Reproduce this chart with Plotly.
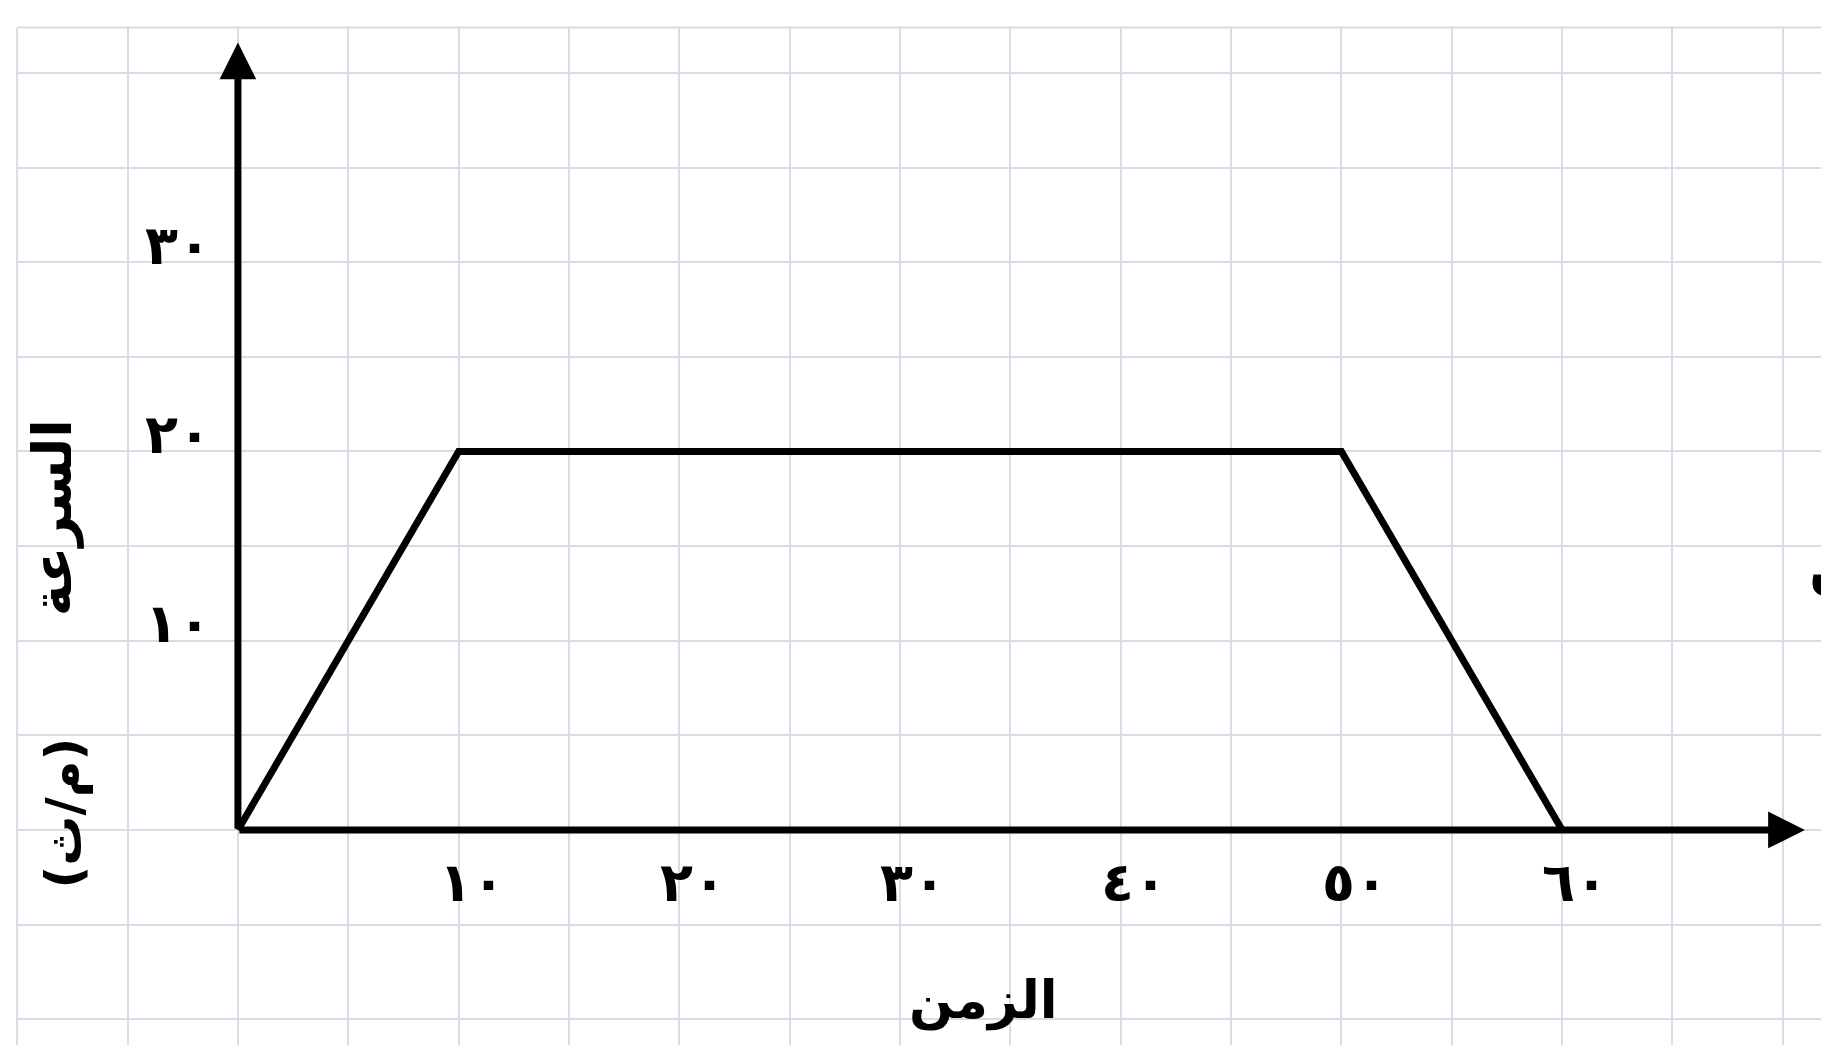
import plotly.graph_objects as go

# speed-time graph (Arabic labels)
time_s = [0, 10, 50, 60]
speed_ms = [0, 20, 20, 0]

x_ticks = [10, 20, 30, 40, 50, 60]
x_tick_labels = ["١٠", "٢٠", "٣٠", "٤٠", "٥٠", "٦٠"]
y_ticks = [10, 20, 30]
y_tick_labels = ["١٠", "٢٠", "٣٠"]

x_title = "الزمن"
y_title = "السرعة"
y_unit = "(م/ث)"

grid_col = "#d9dce6"
font_name = "DejaVu Sans"
bold = dict(family=font_name, color="black", weight="bold")

fig = go.Figure()
fig.add_trace(go.Scatter(x=time_s, y=speed_ms, mode="lines",
                         line=dict(color="black", width=7), hoverinfo="skip"))

# axes with arrow heads
fig.add_annotation(x=0, y=41.6, ax=0, ay=0, axref="x", ayref="y", xref="x", yref="y",
                   text="", showarrow=True, arrowhead=2, arrowsize=1.05, arrowwidth=7,
                   arrowcolor="black")
fig.add_annotation(x=71.0, y=0, ax=0, ay=0, axref="x", ayref="y", xref="x", yref="y",
                   text="", showarrow=True, arrowhead=2, arrowsize=1.05, arrowwidth=7,
                   arrowcolor="black")

for v, lab in zip(x_ticks, x_tick_labels):
    fig.add_annotation(x=v + 0.6, y=-2.8, text=lab, showarrow=False,
                       font=dict(size=54, **bold))
for v, lab in zip(y_ticks, y_tick_labels):
    fig.add_annotation(x=-2.7, y=v + 0.9, text=lab, showarrow=False,
                       font=dict(size=54, **bold))

fig.add_annotation(x=33.8, y=-9.0, text=x_title, showarrow=False,
                   font=dict(size=52, **bold))
fig.add_annotation(x=-8.4, y=16.5, text=y_title, showarrow=False, textangle=-90,
                   font=dict(size=54, **bold))
fig.add_annotation(x=-7.9, y=0.9, text=y_unit, showarrow=False, textangle=-90,
                   font=dict(size=50, **bold))
# cut-off letter at the right edge
fig.add_annotation(x=1.0, y=13.8, xref="paper", yref="y", xanchor="left", xshift=-14,
                   text="ن", showarrow=False, font=dict(size=56, **bold))

# white borders of the grid paper
fig.add_shape(type="rect", xref="paper", yref="y", x0=0, x1=1, y0=42.4, y1=50,
              fillcolor="white", line_width=0, layer="above")
fig.add_shape(type="line", xref="x", yref="y", x0=-10, x1=71.73, y0=42.4, y1=42.4,
              line=dict(color=grid_col, width=2), layer="above")
fig.add_shape(type="rect", xref="x", yref="paper", x0=-12, x1=-10.05, y0=0, y1=1,
              fillcolor="white", line_width=0, layer="above")

fig.update_xaxes(range=[-10.78, 71.73], dtick=5, tick0=0, showgrid=True,
                 gridcolor=grid_col, gridwidth=2, zeroline=False,
                 showticklabels=False, ticks="", showline=False)
fig.update_yaxes(range=[-11.36, 43.85], dtick=5, tick0=0, showgrid=True,
                 gridcolor=grid_col, gridwidth=2, zeroline=False,
                 showticklabels=False, ticks="", showline=False)

fig.update_layout(width=1821, height=1045, margin=dict(l=0, r=0, t=0, b=0),
                  plot_bgcolor="white", paper_bgcolor="white", showlegend=False)

fig.write_html("out.html", config={"displayModeBar": False},
               post_script="document.body.style.margin='0';")
